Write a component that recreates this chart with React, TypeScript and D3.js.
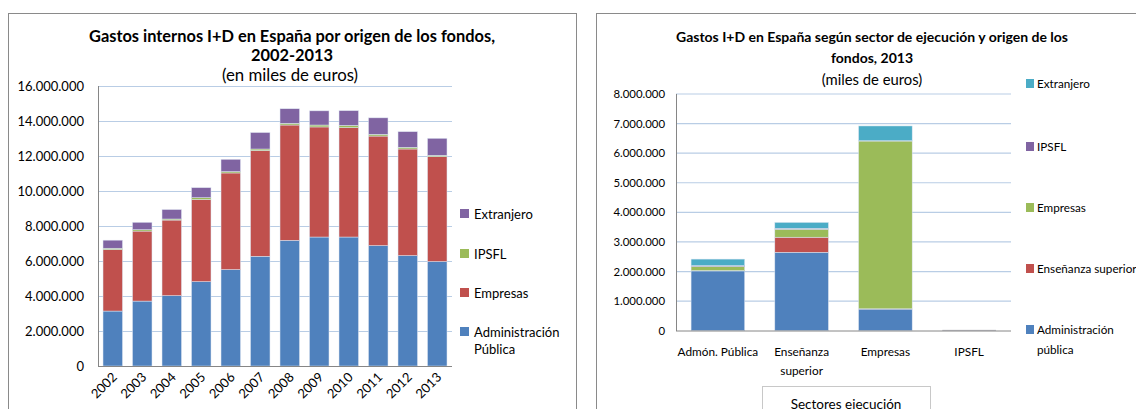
import React from "react";
import * as d3 from "d3";

// left chart: gastos internos por origen de los fondos (miles de euros)
const years = ["2002", "2003", "2004", "2005", "2006", "2007", "2008", "2009", "2010", "2011", "2012", "2013"];
const adminPublica = [3140000, 3710000, 4020000, 4820000, 5510000, 6270000, 7180000, 7370000, 7370000, 6880000, 6310000, 5970000];
const empresas = [3510000, 4000000, 4320000, 4690000, 5520000, 6040000, 6590000, 6290000, 6250000, 6260000, 6090000, 5990000];
const ipsfl = [80000, 80000, 60000, 110000, 80000, 90000, 100000, 110000, 130000, 100000, 100000, 80000];
const extranjero = [460000, 420000, 540000, 570000, 700000, 940000, 830000, 810000, 840000, 940000, 890000, 970000];
const leftSeries = ["Administración Pública", "Empresas", "IPSFL", "Extranjero"];
const leftColors = ["#4f81bd", "#c0504d", "#9bbb59", "#8064a2"];

// right chart: 2013 por sector de ejecución
const sectores = ["Admón. Pública", "Enseñanza superior", "Empresas", "IPSFL"];
const rAdmin = [2020000, 2650000, 730000, 8000];
const rEnsenanza = [10000, 510000, 10000, 1000];
const rEmpresas = [140000, 270000, 5670000, 5000];
const rIpsfl = [30000, 30000, 10000, 9000];
const rExtranjero = [220000, 200000, 500000, 4000];
const rightSeries = ["Administración pública", "Enseñanza superior", "Empresas", "IPSFL", "Extranjero"];
const rightColors = ["#4f81bd", "#c0504d", "#9bbb59", "#8064a2", "#4bacc6"];

const fmt = (v: number) => (v === 0 ? "0" : d3.format(",")(v).replace(/,/g, "."));
const font = "Lato, 'Open Sans', sans-serif";

const LeftChart = () => {
  const x = d3.scaleBand().domain(years).range([98, 452]).paddingInner(0.34).paddingOuter(0.17);
  const y = d3.scaleLinear().domain([0, 16000000]).range([366, 86]);
  const rows = years.map((yr, i) => ({ yr, s: [adminPublica[i], empresas[i], ipsfl[i], extranjero[i]] }));
  const stack = d3.stack<any>().keys(["0", "1", "2", "3"]).value((d, k) => d.s[+k]);
  const layers = stack(rows);
  const ticks = d3.range(0, 16000001, 2000000);
  const legendY = [332, 293, 254, 214];
  return (
    <g>
      <rect x={8.5} y={13.5} width={568} height={420} fill="#fff" stroke="#8a8a8a" />
      <text x={292} y={41.5} textAnchor="middle" fontFamily={font} fontWeight="bold" fontSize={16.4}>
        Gastos internos I+D en España por origen de los fondos,
      </text>
      <text x={292} y={60.5} textAnchor="middle" fontFamily={font} fontWeight="bold" fontSize={16.4}>
        2002-2013
      </text>
      <text x={290} y={81} textAnchor="middle" fontFamily={font} fontSize={16.8}>
        (en miles de euros)
      </text>
      {ticks.map((t) => (
        <g key={t}>
          {t > 0 && <line x1={98} x2={452} y1={y(t) + 0.5} y2={y(t) + 0.5} stroke="#b9cde5" />}
          <text x={84} y={y(t)} dy="0.35em" textAnchor="end" fontFamily={font} fontSize={13}>
            {fmt(t)}
          </text>
        </g>
      ))}
      {layers.map((layer, li) =>
        layer.map((d: any) => (
          <rect
            key={li + d.data.yr}
            x={x(d.data.yr)}
            width={x.bandwidth()}
            y={y(d[1])}
            height={y(d[0]) - y(d[1])}
            fill={leftColors[li]}
            stroke="#dde6f2"
            strokeWidth={0.5}
          />
        ))
      )}
      <line x1={98.5} x2={98.5} y1={86} y2={366} stroke="#868686" />
      <line x1={98} x2={452} y1={366.5} y2={366.5} stroke="#868686" />
      {years.map((yr) => {
        const cx = (x(yr) as number) + x.bandwidth() / 2 + 5;
        return (
          <text key={yr} x={cx} y={378} textAnchor="end" fontFamily={font} fontSize={13}
            transform={`rotate(-45,${cx},378)`}>
            {yr}
          </text>
        );
      })}
      {leftSeries.map((s, i) => (
        <g key={s}>
          <rect x={460} y={legendY[i] - 5} width={9} height={9} fill={leftColors[i]} />
          <text x={474} y={legendY[i]} dy="0.35em" fontFamily={font} fontSize={13}>
            {i === 0 ? "Administración" : s}
          </text>
          {i === 0 && (
            <text x={474} y={349} dy="0.35em" fontFamily={font} fontSize={13}>
              Pública
            </text>
          )}
        </g>
      ))}
    </g>
  );
};

const RightChart = () => {
  const x = d3.scaleBand().domain(sectores).range([676, 1011]).paddingInner(0.36).paddingOuter(0.18);
  const y = d3.scaleLinear().domain([0, 8000000]).range([330.7, 94]);
  const rows = sectores.map((sc, i) => ({ sc, s: [rAdmin[i], rEnsenanza[i], rEmpresas[i], rIpsfl[i], rExtranjero[i]] }));
  const stack = d3.stack<any>().keys(["0", "1", "2", "3", "4"]).value((d, k) => d.s[+k]);
  const layers = stack(rows);
  const ticks = d3.range(0, 8000001, 1000000);
  const legendY = [330, 269, 208, 147, 84];
  return (
    <g>
      <rect x={596.5} y={13.5} width={600} height={420} fill="#fff" stroke="#8a8a8a" />
      <text x={872} y={41.5} textAnchor="middle" fontFamily={font} fontWeight="bold" fontSize={14}>
        Gastos I+D en España según sector de ejecución y origen de los
      </text>
      <text x={872} y={63} textAnchor="middle" fontFamily={font} fontWeight="bold" fontSize={14}>
        fondos, 2013
      </text>
      <text x={872} y={85} textAnchor="middle" fontFamily={font} fontSize={14.8}>
        (miles de euros)
      </text>
      {ticks.map((t) => (
        <g key={t}>
          {t > 0 && <line x1={676} x2={1011} y1={y(t)} y2={y(t)} stroke="#b9cde5" strokeWidth={1.2} />}
          <text x={665} y={y(t)} dy="0.35em" textAnchor="end" fontFamily={font} fontSize={11.4}>
            {fmt(t)}
          </text>
        </g>
      ))}
      {layers.map((layer, li) =>
        layer.map((d: any) => (
          <rect
            key={li + d.data.sc}
            x={x(d.data.sc)}
            width={x.bandwidth()}
            y={y(d[1])}
            height={Math.max(0, y(d[0]) - y(d[1]))}
            fill={d.data.sc === "IPSFL" ? "#8a8a9a" : rightColors[li]}
            stroke="#dde6f2"
            strokeWidth={d.data.sc === "IPSFL" ? 0 : 0.5}
          />
        ))
      )}
      <line x1={676.5} x2={676.5} y1={94} y2={331} stroke="#868686" />
      <line x1={676} x2={1011} y1={331} y2={331} stroke="#868686" />
      {sectores.map((sc) => {
        const cx = (x(sc) as number) + x.bandwidth() / 2;
        const parts = sc === "Enseñanza superior" ? ["Enseñanza", "superior"] : [sc];
        return parts.map((p, j) => (
          <text key={sc + j} x={cx} y={352 + j * 19} dy="0.35em" textAnchor="middle" fontFamily={font} fontSize={11.8}>
            {p}
          </text>
        ));
      })}
      <rect x={762.5} y={386.5} width={168} height={40} fill="#fff" stroke="#c8c8c8" />
      <text x={846} y={409} textAnchor="middle" fontFamily={font} fontSize={13.5}>
        Sectores ejecución
      </text>
      {rightSeries.map((s, i) => (
        <g key={s}>
          <rect x={1026} y={legendY[i] - 5} width={8} height={9} fill={rightColors[i]} />
          <text x={1037} y={legendY[i]} dy="0.35em" fontFamily={font} fontSize={11.7}>
            {i === 0 ? "Administración" : s}
          </text>
          {i === 0 && (
            <text x={1037} y={350} dy="0.35em" fontFamily={font} fontSize={11.7}>
              pública
            </text>
          )}
        </g>
      ))}
    </g>
  );
};

export default function App() {
  return (
    <div style={{ position: "absolute", left: 0, top: 0 }}>
      <svg width={1136} height={409} style={{ display: "block", background: "#fff" }}>
        <LeftChart />
        <RightChart />
      </svg>
    </div>
  );
}
